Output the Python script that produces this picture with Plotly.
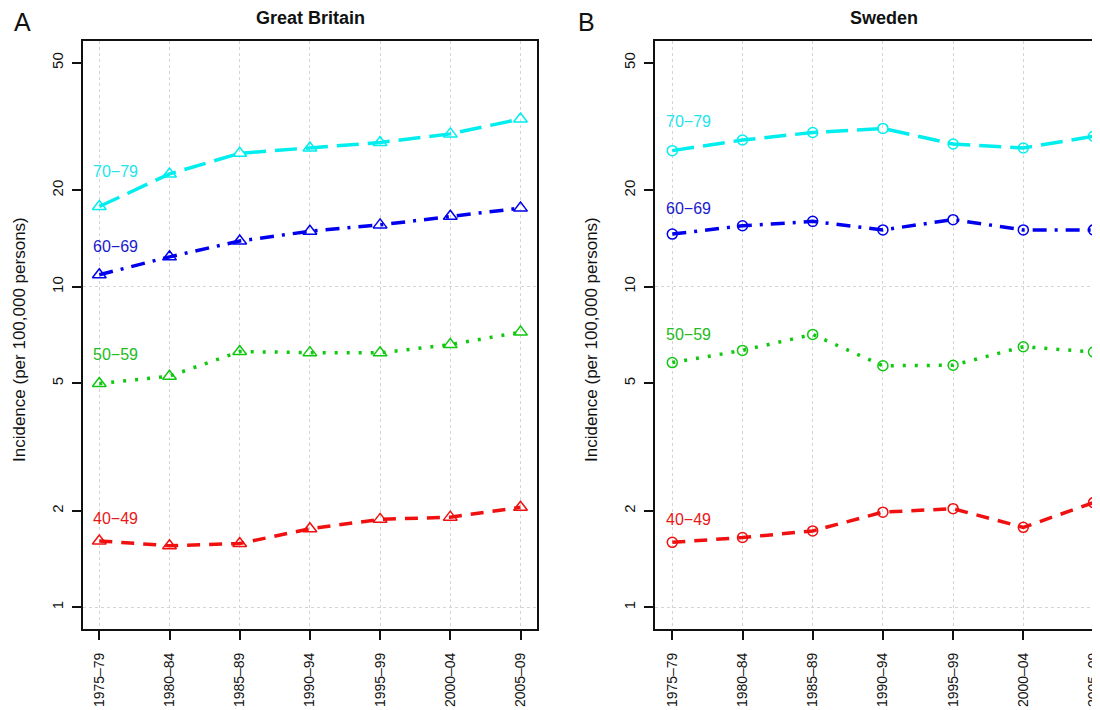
import math
import plotly.graph_objects as go

periods = ["1975–79", "1980–84", "1985–89", "1990–94", "1995–99", "2000–04", "2005–09"]
age_groups = ["70−79", "60−69", "50−59", "40−49"]

# Great Britain incidence per 100,000
gb_70_79 = [17.8, 22.5, 26.1, 27.1, 28.2, 30.0, 33.4]
gb_60_69 = [10.9, 12.4, 13.9, 14.9, 15.6, 16.6, 17.6]
gb_50_59 = [4.99, 5.26, 6.28, 6.23, 6.22, 6.6, 7.22]
gb_40_49 = [1.61, 1.556, 1.58, 1.757, 1.88, 1.91, 2.05]

# Sweden incidence per 100,000
se_70_79 = [26.6, 28.7, 30.3, 31.2, 27.9, 27.1, 29.5]
se_60_69 = [14.6, 15.5, 16.0, 15.05, 16.2, 15.05, 15.05]
se_50_59 = [5.8, 6.33, 7.1, 5.67, 5.69, 6.5, 6.26]
se_40_49 = [1.594, 1.65, 1.73, 1.98, 2.03, 1.775, 2.12]

y_ticks = [1, 2, 5, 10, 20, 50]
y_grid = [1, 10]

# label heights (values) for the age-group text labels
gb_label_y = [22.9, 13.4, 6.15, 1.89]
se_label_y = [32.8, 17.6, 7.09, 1.88]

colors = ["#00EEEE", "#0000EE", "#11C811", "#F01010"]
dashes = ["22px,9px", "14px,8px,3px,8px", "3px,9px", "13px,9px"]
label_colors = ["#22E4EE", "#1A1ACC", "#22BB22", "#E81818"]

W, H = 1100, 710
OFF = 8  # page body margin: figure is drawn 8px from the window's top-left corner

def px(v):
    return v - OFF

# geometry in window pixels
plot_top, plot_bot = px(41), px(629)
ax_a_left, ax_a_right = px(82.7), px(537.0)
ax_b_left = px(655.0)
x_step = 70.2
a_first = px(99.3)
b_first = px(672.3)

fig = go.Figure()

panels = [
    ("x", "y", [gb_70_79, gb_60_69, gb_50_59, gb_40_49], "triangle-up-open", 12, gb_label_y),
    ("x2", "y2", [se_70_79, se_60_69, se_50_59, se_40_49], "circle-open", 10, se_label_y),
]

for xa, ya, series, sym, msize, label_y in panels:
    for i, vals in enumerate(series):
        fig.add_trace(go.Scatter(
            x=periods, y=vals, xaxis=xa, yaxis=ya, mode="lines+markers",
            line=dict(color=colors[i], width=3.5, dash=dashes[i]),
            marker=dict(symbol=sym, size=msize, color=colors[i],
                        line=dict(width=1.5, color=colors[i])),
            showlegend=False, cliponaxis=False,
        ))
        fig.add_annotation(
            x=-0.12, y=math.log10(label_y[i]), xref=xa, yref=ya,
            text=age_groups[i], showarrow=False, xanchor="left", yanchor="middle",
            font=dict(size=16, color=label_colors[i], family="Liberation Sans"),
        )

yr = [-0.068, 1.767]
a_range = [(ax_a_left - a_first) / x_step, (ax_a_right - a_first) / x_step]
b_range = [(ax_b_left - b_first) / x_step, (W - b_first) / x_step]

y_dom = [(H - plot_bot) / H, (H - plot_top) / H]

common_x = dict(
    showline=True, linecolor="#111", linewidth=2, ticks="outside", ticklen=9,
    tickwidth=1.5, tickcolor="#111", tickangle=-90,
    tickfont=dict(size=14, color="#111", family="Liberation Sans"),
    showgrid=True, gridcolor="#d4d4d4", griddash="dot", gridwidth=1,
    zeroline=False, ticklabelstandoff=7, automargin=False,
)
common_y = dict(
    type="log", range=yr, domain=y_dom,
    showline=True, linecolor="#111", linewidth=2, ticks="outside", ticklen=9,
    tickwidth=1.5, tickcolor="#111", tickangle=-90,
    tickvals=y_ticks, ticktext=[str(v) for v in y_ticks],
    tickfont=dict(size=15, color="#111", family="Liberation Sans"),
    showgrid=False, zeroline=False, ticklabelstandoff=3, automargin=False,
    minor=dict(tickvals=y_grid, showgrid=True, gridcolor="#d4d4d4", griddash="dot",
               gridwidth=1, ticks=""),
)

fig.update_layout(
    width=W, height=H, margin=dict(l=0, r=0, t=0, b=0),
    paper_bgcolor="white", plot_bgcolor="white",
    xaxis=dict(common_x, domain=[ax_a_left / W, ax_a_right / W], range=a_range,
               mirror=True, anchor="y"),
    yaxis=dict(common_y, mirror=True, anchor="x"),
    xaxis2=dict(common_x, domain=[ax_b_left / W, 1.0], range=b_range,
                mirror=True, anchor="y2"),
    yaxis2=dict(common_y, mirror=False, anchor="x2"),
    font=dict(family="Liberation Sans"),
)

# panel titles, letters and y-axis titles (window pixel positions)
def add_text(xw, yw, text, size, angle=0):
    fig.add_annotation(x=px(xw) / W, y=1 - px(yw) / H, xref="paper", yref="paper",
                       text=text, showarrow=False, textangle=angle,
                       font=dict(size=size, color="#111"),
                       xanchor="center", yanchor="middle")

add_text(310, 18, "<b>Great Britain</b>", 18)
add_text(884, 18, "<b>Sweden</b>", 18)
add_text(22, 22, "A", 25)
add_text(586, 22, "B", 25)
add_text(19, 340, "Incidence (per 100,000 persons)", 17, -90)
add_text(591, 340, "Incidence (per 100,000 persons)", 17, -90)

fig.write_html("out.html")
